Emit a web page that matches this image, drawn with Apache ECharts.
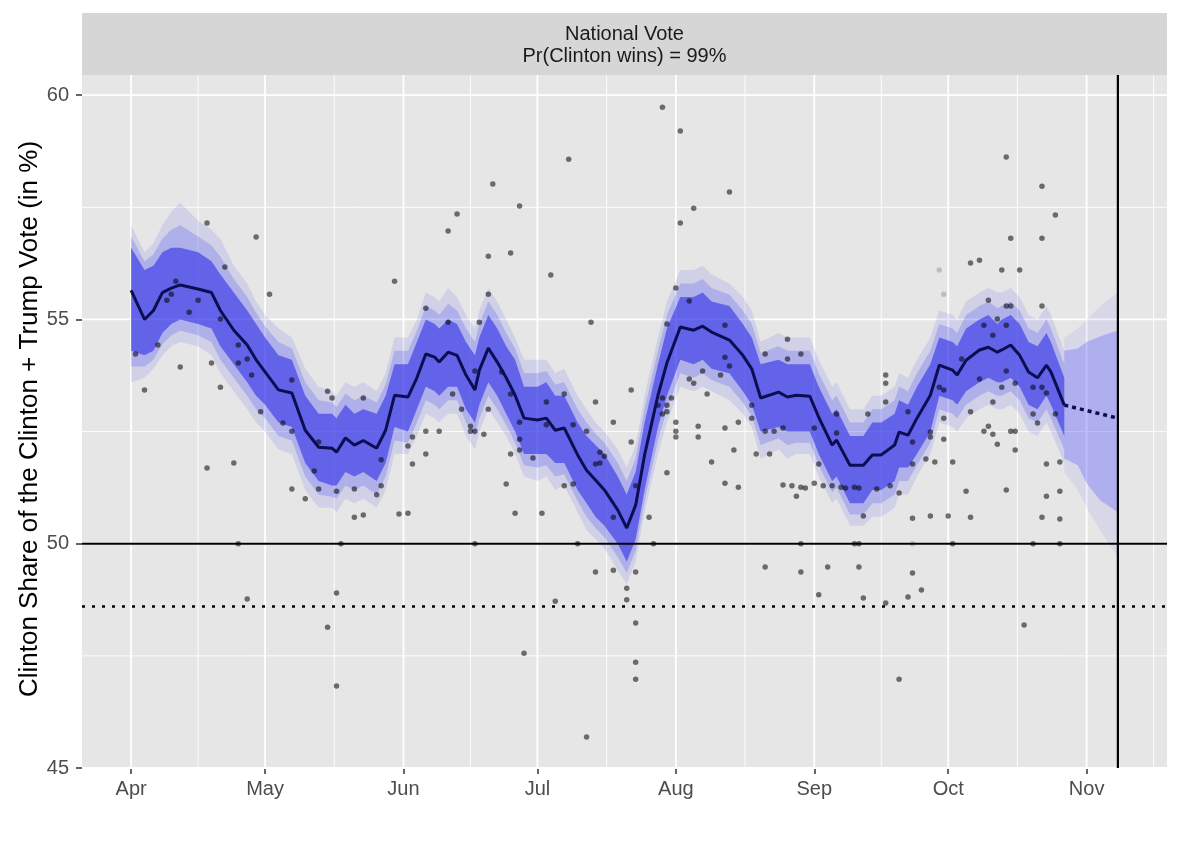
<!DOCTYPE html>
<html>
<head>
<meta charset="utf-8">
<script src="https://cdn.jsdelivr.net/npm/echarts@6/dist/echarts.min.js"></script>
<style>
html,body{margin:0;padding:0;background:#ffffff;}
#chart{width:1180px;height:842px;}
</style>
</head>
<body>
<div id="chart"></div>
<script>
// ---------------- DATA ----------------
const YEAR = 2016;
const stripLine1 = 'National Vote';
const stripLine2 = 'Pr(Clinton wins) = 99%';
const yTitle = 'Clinton Share of the Clinton + Trump Vote (in %)';

const monthTicks  = ['04-01','05-01','06-01','07-01','08-01','09-01','10-01','11-01'];
const monthLabels = ['Apr','May','Jun','Jul','Aug','Sep','Oct','Nov'];
const yTicks = [45, 50, 55, 60];
const yMinorTicks = [47.5, 52.5, 57.5];

// poll-average trend (solid part)
const trendDates = ['04-01','04-04','04-06','04-08','04-10','04-12','04-16','04-19','04-21','04-24','04-27','04-29',
  '05-01','05-04','05-07','05-10','05-13','05-16','05-17','05-19','05-21','05-23','05-26','05-28','05-30',
  '06-02','06-04','06-06','06-08','06-09','06-11','06-13','06-15','06-17','06-18','06-20','06-22','06-24','06-26','06-28',
  '07-01','07-03','07-05','07-07','07-10','07-12','07-14','07-16','07-19','07-21','07-23','07-25','07-28','07-30',
  '08-02','08-05','08-07','08-09','08-13','08-16','08-18','08-20','08-24','08-26','08-28','08-31',
  '09-02','09-05','09-06','09-09','09-12','09-14','09-16','09-19','09-20','09-22','09-24','09-27','09-29',
  '10-02','10-03','10-05','10-08','10-10','10-12','10-13','10-15','10-17','10-19','10-21','10-23','10-24','10-27'];
const trendMean = [55.65,55.00,55.20,55.60,55.70,55.77,55.68,55.60,55.20,54.76,54.43,54.10,
  53.83,53.43,53.36,52.53,52.15,52.13,52.04,52.36,52.20,52.30,52.13,52.53,53.31,
  53.27,53.70,54.23,54.16,54.05,54.27,54.20,53.76,53.43,53.87,54.36,54.05,53.70,53.31,52.80,
  52.76,52.80,52.53,52.58,51.98,51.64,51.42,51.20,50.75,50.35,50.86,51.98,53.31,54.03,
  54.83,54.76,54.85,54.72,54.54,54.20,53.90,53.25,53.38,53.27,53.31,53.29,
  52.82,52.20,52.31,51.75,51.75,51.98,51.98,52.20,52.49,52.42,52.80,53.31,53.98,
  53.87,53.76,54.09,54.32,54.38,54.27,54.32,54.43,54.20,53.83,53.70,53.98,53.83,53.09];
// dense core of the simulated paths
const coreHigh = [56.6,56.1,56.2,56.5,56.6,56.6,56.5,56.3,56.0,55.6,55.2,54.9,
  54.6,54.2,54.1,53.3,52.9,52.9,52.8,53.1,52.9,53.0,52.9,53.3,54.0,
  54.0,54.5,55.0,54.9,54.8,55.0,54.9,54.5,54.2,54.6,55.1,54.8,54.4,54.1,53.5,
  53.5,53.6,53.3,53.3,52.7,52.4,52.2,52.0,51.5,51.1,51.6,52.7,54.0,54.8,
  55.5,55.5,55.6,55.4,55.3,54.9,54.6,54.0,54.1,54.0,54.0,54.0,
  53.5,52.9,53.0,52.4,52.4,52.7,52.7,52.9,53.2,53.1,53.5,54.0,54.6,
  54.5,54.4,54.8,55.0,55.1,54.9,55.0,55.1,54.9,54.5,54.4,54.7,54.5,53.7];
const coreLow = [54.3,54.2,54.3,54.7,54.9,55.0,54.9,54.8,54.4,54.0,53.6,53.3,
  53.1,52.7,52.6,51.8,51.4,51.3,51.3,51.6,51.5,51.6,51.4,51.8,52.6,
  52.5,53.0,53.5,53.4,53.3,53.5,53.5,53.0,52.7,53.1,53.6,53.3,52.9,52.5,52.0,
  52.0,52.0,51.8,51.8,51.2,50.9,50.6,50.4,50.0,49.6,50.1,51.2,52.6,53.3,
  54.1,54.0,54.1,53.9,53.8,53.4,53.1,52.5,52.6,52.5,52.5,52.5,
  52.0,51.4,51.5,50.9,50.9,51.2,51.2,51.4,51.7,51.7,52.0,52.5,53.3,
  53.2,53.1,53.4,53.6,53.7,53.6,53.6,53.7,53.5,53.1,53.0,53.3,53.1,52.4];
// faint outer spread of the simulated paths
const outerHigh = [57.1,56.5,56.7,57.1,57.4,57.6,57.2,57.0,56.8,56.2,55.8,55.4,
  55.1,54.8,54.6,53.9,53.5,53.4,53.3,53.6,53.5,53.6,53.4,53.8,54.6,
  54.6,55.0,55.6,55.5,55.4,55.7,55.5,55.1,54.8,55.2,55.7,55.4,55.0,54.6,54.1,
  54.1,54.1,53.8,53.9,53.3,53.0,52.7,52.5,52.1,51.7,52.2,53.3,54.6,55.4,
  56.1,56.1,56.2,56.0,55.8,55.5,55.2,54.5,54.7,54.6,54.6,54.6,
  54.1,53.5,53.6,53.0,53.0,53.3,53.3,53.5,53.8,53.7,54.1,54.6,55.2,
  55.1,55.0,55.4,55.6,55.7,55.6,55.6,55.7,55.5,55.1,55.0,55.3,55.1,54.3];
const outerLow = [53.6,53.7,53.9,54.2,54.4,54.5,54.4,54.2,53.8,53.4,53.0,52.7,
  52.5,52.1,52.0,51.2,50.8,50.8,50.7,51.0,50.9,51.0,50.8,51.2,52.0,
  52.0,52.4,52.9,52.8,52.7,52.9,52.9,52.4,52.1,52.5,53.0,52.7,52.4,52.0,51.5,
  51.4,51.5,51.2,51.3,50.7,50.3,50.1,49.9,49.4,49.1,49.6,50.7,52.0,52.7,
  53.5,53.4,53.5,53.4,53.2,52.9,52.6,51.9,52.1,51.9,52.0,52.0,
  51.5,50.9,51.0,50.4,50.4,50.6,50.6,50.8,51.1,51.1,51.5,52.0,52.7,
  52.6,52.5,52.8,53.0,53.1,53.0,53.0,53.1,52.9,52.5,52.4,52.7,52.5,51.8];

// forecast to election day
const projDates = ['10-27','11-08'];
const projMean  = [53.09, 52.80];
const coneDates = ['10-27','10-30','11-01','11-04','11-08'];
const coneHigh  = [54.30, 54.35, 54.50, 54.62, 54.76];
const coneLow   = [51.90, 51.75, 51.35, 50.97, 50.70];
const coneOuterHigh = [54.60, 54.80, 55.00, 55.30, 55.60];
const coneOuterLow  = [51.60, 51.20, 50.80, 50.30, 49.70];

const electionDay = '11-08';
const refLevel = 50;
const dottedLevel = 48.6;

// individual polls
const pollDates = ['04-18','04-29','04-22','04-11','04-10','05-02','04-09','04-16','04-14','05-30','06-06','04-21','04-07','04-02','04-25',
  '04-12','04-19','04-25','04-27','04-28','04-04','04-21','05-07','04-30','05-05','05-07','05-15','05-16','05-23','04-18',
  '04-24','05-13','05-12','05-07','05-10','05-13','05-17','05-21','05-26','05-27','05-27','05-21','05-23','05-31','06-02',
  '06-02','06-03','06-03','06-06','06-06','06-21','06-27','06-13','06-11','06-20','06-25','07-04','06-20','06-11','06-18',
  '07-13','06-17','06-23','06-12','06-14','06-20','06-25','07-03','07-07','07-14','07-18','07-03','06-27','07-09','07-12',
  '06-09','06-16','06-16','06-17','06-19','06-27','06-27','06-25','06-30','07-15','07-16','07-15','07-14','06-24','07-07',
  '07-09','07-23','06-26','07-02','07-18','07-26','06-17','07-10','07-22','07-22','07-08','07-27','07-29','08-02','08-13',
  '08-05','08-02','08-01','08-04','07-30','08-12','08-12','08-13','08-07','08-04','08-05','08-11','08-08','07-29','07-31',
  '07-30','07-28','07-29','07-30','08-01','08-01','08-01','08-06','08-06','07-30','08-09','08-12','08-14','08-15','08-12',
  '08-15','08-18','08-18','08-19','08-21','08-26','08-26','08-29','08-21','08-23','08-25','08-22','08-25','08-27','08-28',
  '08-29','08-30','09-01','09-01','09-02','09-03','09-05','09-06','09-06','09-07','09-08','09-10','09-11','09-12','09-13',
  '09-15','09-17','09-17','09-17','09-18','09-20','09-22','09-23','09-23','09-23','09-26','09-27','09-27','09-28','09-27',
  '09-29','09-30','09-30','10-01','09-30','08-29','09-10','09-11','04-25','05-18','04-27','05-17','05-15','05-17','07-05',
  '06-28','07-12','07-14','07-18','07-23','07-21','07-21','07-23','07-23','07-23','08-21','08-29','09-02','09-04','09-11',
  '09-12','09-17','09-20','09-22','09-23','09-25','10-18','10-02','10-20','10-26','10-25','10-15','10-22','10-06','10-08',
  '10-13','10-17','10-10','10-14','10-15','10-22','10-12','10-09','10-14','10-11','10-04','10-14','10-08','10-13','10-16',
  '10-20','10-22','10-23','10-11','10-20','10-25','10-21','10-06','10-10','10-09','10-11','10-15','10-16','10-12','10-16',
  '10-23','10-26','10-05','10-14','10-23','10-26','10-06','10-22','10-26','10-02','10-14','10-22'];
const pollPct = [57.15,56.84,56.17,55.85,55.56,55.56,55.43,55.43,55.16,55.85,55.25,55.01,54.43,54.23,54.43,
  53.94,54.03,54.03,54.12,53.76,53.43,53.49,53.65,52.94,52.69,52.51,53.40,53.25,53.25,51.69,
  51.80,52.27,51.62,51.22,51.00,51.22,51.17,51.22,51.09,51.87,51.29,50.59,50.64,50.66,50.68,
  52.18,52.38,51.78,52.00,52.51,58.02,57.53,57.35,56.97,56.41,56.48,55.99,55.56,54.94,54.94,
  54.94,53.85,53.83,53.34,53.00,53.00,53.34,53.16,53.34,53.16,52.71,52.65,52.71,52.65,52.51,
  52.51,52.62,52.51,52.51,52.44,52.33,52.09,52.00,51.91,52.04,51.95,51.80,51.78,51.33,51.29,
  51.33,51.29,50.68,50.68,50.59,50.59,50.00,50.00,53.43,52.27,58.57,50.00,59.73,59.20,57.84,
  57.48,57.15,55.70,55.41,54.90,54.87,54.16,53.96,53.85,53.67,53.58,53.76,53.34,53.25,53.25,
  53.09,53.09,52.89,52.94,52.71,52.51,52.38,52.62,52.38,51.58,51.82,52.58,52.09,52.71,51.35,
  51.26,53.09,52.80,52.00,54.23,54.56,54.12,54.23,52.51,52.51,52.58,52.00,51.31,51.29,51.06,
  51.26,51.24,51.35,52.58,51.78,51.29,51.29,52.89,52.47,51.26,51.24,51.26,51.24,50.62,52.89,
  51.22,53.76,53.58,53.16,51.29,51.13,52.94,52.27,51.78,50.57,51.89,52.49,52.38,51.82,50.62,
  53.49,52.80,52.33,50.62,53.43,50.00,50.00,50.00,50.00,50.00,48.77,48.90,48.14,46.83,48.72,
  47.56,45.69,49.37,49.41,49.37,49.01,48.75,48.23,47.36,46.98,49.48,49.37,48.86,49.48,49.48,
  48.79,48.68,46.98,48.81,49.35,48.97,48.19,50.00,50.00,50.00,57.33,56.81,56.81,56.26,56.32,
  56.10,56.10,55.43,55.30,55.30,55.30,55.01,54.87,54.87,54.65,54.12,53.85,53.67,53.49,53.58,
  53.49,53.49,53.36,53.16,52.89,52.89,52.69,52.94,52.62,52.51,52.44,52.51,52.51,52.22,52.09,
  51.78,51.82,51.17,51.20,51.06,51.17,50.59,50.59,50.55,51.82,58.62,57.97];
// polls drawn very faintly
const faintPollDates = ['09-29','09-30','09-23'];
const faintPollPct   = [56.10, 55.56, 50.00];

// ---------------- CHART ----------------
const ts = md => { const p = md.split('-').map(Number); return new Date(YEAR, p[0] - 1, p[1]).getTime(); };
const X_MIN = ts('03-21'), X_MAX = ts('11-19');
const Y_MIN = 45, Y_MAX = 60.45;
const FONT = '"Liberation Sans", Arial, Helvetica, sans-serif';

const monthTs = monthTicks.map(ts);
const edgeMonths = ['03-01'].concat(monthTicks, ['12-01']).map(ts);
const minorTs = [];
for (let i = 0; i < edgeMonths.length - 1; i++) {
  const m = (edgeMonths[i] + edgeMonths[i + 1]) / 2;
  if (m > X_MIN && m < X_MAX) minorTs.push(m);
}
// halfway edges between the dense core and the faint outer spread
const midHigh = coreHigh.map((v, i) => (v + outerHigh[i]) / 2);
const midLow  = coreLow.map((v, i) => (v + outerLow[i]) / 2);

const series = [];
function hLine(v, style, z) {
  series.push({ type: 'line', silent: true, z: z, symbol: 'none', animation: false,
    data: [[X_MIN, v], [X_MAX, v]], lineStyle: style });
}
function vLine(t, style, z) {
  series.push({ type: 'line', silent: true, z: z, symbol: 'none', animation: false,
    data: [[t, Y_MIN], [t, Y_MAX]], lineStyle: style });
}
// panel grid
minorTs.forEach(t => vLine(t, { color: '#ffffff', width: 0.9 }, 1));
yMinorTicks.forEach(v => hLine(v, { color: '#ffffff', width: 0.9 }, 1));
monthTs.forEach(t => vLine(t, { color: '#ffffff', width: 1.8 }, 1));
yTicks.forEach(v => hLine(v, { color: '#ffffff', width: 1.8 }, 1));

function band(dates, hi, lo, fill, z) {
  series.push({
    type: 'custom', silent: true, z: z, clip: true, animation: false,
    data: [[ts(dates[0]), hi[0]]],
    renderItem: function (params, api) {
      const pts = [];
      for (let i = 0; i < dates.length; i++) pts.push(api.coord([ts(dates[i]), hi[i]]));
      for (let i = dates.length - 1; i >= 0; i--) pts.push(api.coord([ts(dates[i]), lo[i]]));
      return { type: 'polygon', shape: { points: pts }, style: { fill: fill } };
    }
  });
}
band(coneDates, coneOuterHigh, coneOuterLow, 'rgba(90,90,255,0.10)', 2);
band(coneDates, coneHigh, coneLow, 'rgba(90,90,255,0.32)', 2);
band(trendDates, outerHigh, outerLow, 'rgba(60,60,240,0.13)', 2);
band(trendDates, midHigh, midLow, 'rgba(60,60,240,0.22)', 2);
band(trendDates, coreHigh, coreLow, 'rgba(45,45,232,0.58)', 2);

// reference lines
hLine(refLevel, { color: '#000000', width: 2 }, 3);
hLine(dottedLevel, { color: '#000000', width: 2.5, type: [3, 7] }, 3);
vLine(ts(electionDay), { color: '#000000', width: 2.2 }, 3);

// polls
series.push({ type: 'scatter', z: 4, silent: true, animation: false, symbolSize: 5.5,
  itemStyle: { color: 'rgba(0,0,0,0.22)' },
  data: faintPollDates.map((d, i) => [ts(d), faintPollPct[i]]) });
series.push({ type: 'scatter', z: 4, silent: true, animation: false, symbolSize: 5.5,
  itemStyle: { color: 'rgba(0,0,0,0.68)' },
  data: pollDates.map((d, i) => [ts(d), pollPct[i]]) });

// trend
series.push({ type: 'line', z: 5, silent: true, animation: false, symbol: 'none',
  lineStyle: { color: '#0d0d52', width: 3 },
  data: trendDates.map((d, i) => [ts(d), trendMean[i]]) });
series.push({ type: 'line', z: 5, silent: true, animation: false, symbol: 'none',
  lineStyle: { color: '#0d0d52', width: 3.5, type: [4, 4] },
  data: projDates.map((d, i) => [ts(d), projMean[i]]) });

const chart = echarts.init(document.getElementById('chart'), null, { renderer: 'canvas' });
chart.setOption({
  animation: false,
  backgroundColor: '#ffffff',
  grid: { left: 82, right: 13, top: 75, bottom: 74, show: true, backgroundColor: '#e6e6e6', borderWidth: 0, containLabel: false },
  xAxis: {
    type: 'value', min: X_MIN, max: X_MAX,
    axisLine: { show: false },
    splitLine: { show: false },
    axisTick: { show: true, customValues: monthTs, length: 6, lineStyle: { color: '#333333', width: 1.5 } },
    axisLabel: { customValues: monthTs, margin: 11, fontSize: 20, color: '#4d4d4d', fontFamily: FONT,
      formatter: function (v) { const k = monthTs.indexOf(v); return k >= 0 ? monthLabels[k] : ''; } }
  },
  yAxis: {
    type: 'value', min: Y_MIN, max: Y_MAX,
    axisLine: { show: false },
    splitLine: { show: false },
    axisTick: { show: true, customValues: yTicks, length: 6, lineStyle: { color: '#333333', width: 1.5 } },
    axisLabel: { customValues: yTicks, margin: 13, fontSize: 20, color: '#4d4d4d', fontFamily: FONT }
  },
  graphic: [
    { type: 'rect', z: 0, shape: { x: 82, y: 13, width: 1085, height: 62 }, style: { fill: '#d6d6d6' } },
    { type: 'text', z: 1, x: 624.5, y: 34, style: { text: stripLine1, font: '20px ' + FONT, fill: '#1a1a1a',
      align: 'center', verticalAlign: 'middle', textAlign: 'center', textVerticalAlign: 'middle' } },
    { type: 'text', z: 1, x: 624.5, y: 56, style: { text: stripLine2, font: '20px ' + FONT, fill: '#1a1a1a',
      align: 'center', verticalAlign: 'middle', textAlign: 'center', textVerticalAlign: 'middle' } },
    { type: 'text', z: 1, x: 30, y: 419, rotation: Math.PI / 2, style: { text: yTitle, font: '26px ' + FONT, fill: '#000000',
      align: 'center', verticalAlign: 'middle', textAlign: 'center', textVerticalAlign: 'middle' } }
  ],
  series: series
});
</script>
</body>
</html>
